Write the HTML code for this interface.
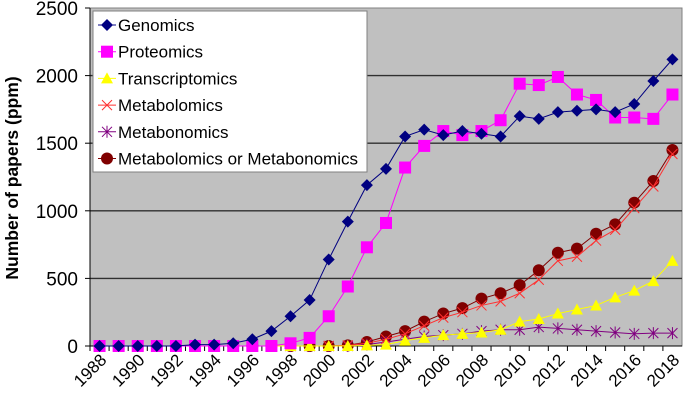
<!DOCTYPE html>
<html><head><meta charset="utf-8"><style>
body{margin:0;background:#fff;}
svg{display:block;font-family:"Liberation Sans",Arial,sans-serif;}
</style></head><body>
<svg id="chart" width="685" height="407">
<rect x="90" y="8" width="592" height="338" fill="#c0c0c0" stroke="#808080"/>
<g id="grid"></g><g id="axes"></g><g id="series"></g>
<text transform="translate(18,178) rotate(-90)" text-anchor="middle" font-size="17.5" font-weight="bold">Number of papers (ppm)</text>
<g id="legend"></g>
</svg>
<script>
const years=[1988,1989,1990,1991,1992,1993,1994,1995,1996,1997,1998,1999,2000,2001,2002,2003,2004,2005,2006,2007,2008,2009,2010,2011,2012,2013,2014,2015,2016,2017,2018];
const genomics=[0,0,0,0,0,10,10,20,50,110,220,340,640,920,1190,1310,1550,1600,1560,1590,1570,1550,1700,1680,1730,1740,1750,1730,1790,1960,2120];
const proteomics=[0,0,0,0,0,0,0,0,0,0,20,60,220,440,730,910,1320,1480,1590,1560,1590,1670,1940,1930,1990,1860,1820,1690,1690,1680,1860];
const transcriptomics=[0,0,0,0,0,0,0,0,0,0,0,0,0,0,5,10,40,60,80,90,100,120,180,200,240,270,300,360,410,480,630];
const metabolomics=[0,0,0,0,0,0,0,0,0,0,0,0,0,5,20,50,90,150,210,250,300,330,390,490,630,660,780,860,1020,1180,1420];
const metabonomics=[0,0,0,0,0,0,0,0,0,0,0,0,0,0,10,30,50,70,80,90,110,120,120,140,130,120,110,100,90,95,95];
const metOrMet=[0,0,0,0,0,0,0,0,0,0,0,0,0,5,30,70,110,180,240,280,350,390,450,560,690,720,830,900,1060,1220,1450];
const yTicks=[0,500,1000,1500,2000,2500];
const seriesNames=["Genomics","Proteomics","Transcriptomics","Metabolomics","Metabonomics","Metabolomics or Metabonomics"];

const NS="http://www.w3.org/2000/svg";
const L=90,R=682,T=8,B=346;
const step=(R-L)/years.length;
const xs=i=>L+step*(i+0.5);
const ys=v=>B-(v/2500)*(B-T);
function mk(tag,attrs,parent){const e=document.createElementNS(NS,tag);for(const k in attrs)e.setAttribute(k,attrs[k]);parent.appendChild(e);return e;}
const grid=document.getElementById('grid'),axes=document.getElementById('axes'),sg=document.getElementById('series'),lg=document.getElementById('legend');
yTicks.forEach(v=>{
  if(v>0&&v<2500){const g=mk('line',{x1:L,x2:R,y1:ys(v),y2:ys(v),stroke:'#303030','stroke-width':1.4},grid);
  
  }
  mk('line',{x1:L-5,x2:L,y1:ys(v),y2:ys(v),stroke:'#000'},axes);
  const t=mk('text',{x:L-12,y:ys(v)+7,'text-anchor':'end','font-size':19},axes);t.textContent=v;
  
  
});
mk('line',{x1:L,x2:L,y1:T,y2:B,stroke:'#000'},axes);
mk('line',{x1:L,x2:R,y1:B,y2:B,stroke:'#000'},axes);
years.forEach((y,i)=>{
  mk('line',{x1:L+step*i,x2:L+step*i,y1:B,y2:B+5,stroke:'#000'},axes);
  if(i%2===0){const t=mk('text',{transform:`translate(${xs(i)+8},${B+15}) rotate(-45)`,'text-anchor':'end','font-size':17},axes);t.textContent=y;
  
  }
});
function marker(kind,x,y,p){
  if(kind==='diamond')mk('polygon',{points:`${x},${y-6} ${x+6},${y} ${x},${y+6} ${x-6},${y}`,fill:'#000080'},p);
  else if(kind==='square')mk('rect',{x:x-6,y:y-6,width:12,height:12,fill:'#ff00ff'},p);
  else if(kind==='tri')mk('polygon',{points:`${x},${y-6} ${x+6},${y+5} ${x-6},${y+5}`,fill:'#ffff00'},p);
  else if(kind==='x'){mk('path',{d:`M${x-5},${y-5}L${x+5},${y+5}M${x-5},${y+5}L${x+5},${y-5}`,stroke:'#ff3030','stroke-width':1},p);}
  else if(kind==='star'){mk('path',{d:`M${x-5},${y-5}L${x+5},${y+5}M${x-5},${y+5}L${x+5},${y-5}M${x},${y-6}L${x},${y+6}`,stroke:'#800080','stroke-width':1},p);}
  else if(kind==='circle')mk('circle',{cx:x,cy:y,r:6,fill:'#800000'},p);
}
const defs=[[genomics,'#000080','diamond','genomics'],[proteomics,'#ff00ff','square','proteomics'],[transcriptomics,'#ffff00','tri','transcriptomics'],[metabolomics,'#ff3030','x','metabolomics'],[metabonomics,'#800080','star','metabonomics'],[metOrMet,'#800000','circle','metabolomics-or-metabonomics']];
const order=[5,4,3,2,1,0];
order.forEach(k=>{
  const [d,c,m,n]=defs[k];
  const g=mk('g',{},sg);
  
  
  mk('polyline',{points:d.map((v,i)=>xs(i)+','+ys(v)).join(' '),fill:'none',stroke:c,'stroke-width':1},g);
  d.forEach((v,i)=>marker(m,xs(i),ys(v),g));
});
mk('rect',{x:93,y:11,width:274,height:161,fill:'#fff',stroke:'#808080'},lg);
defs.forEach((df,i)=>{
  const y=25+i*26.7;
  const e=mk('g',{},lg);
  
  
  mk('line',{x1:98,x2:116,y1:y,y2:y,stroke:df[1]},e);
  marker(df[2],107,y,e);
  const t=mk('text',{x:118,y:y+6,'font-size':17},e);t.textContent=seriesNames[i];
});
</script>
</body></html>
